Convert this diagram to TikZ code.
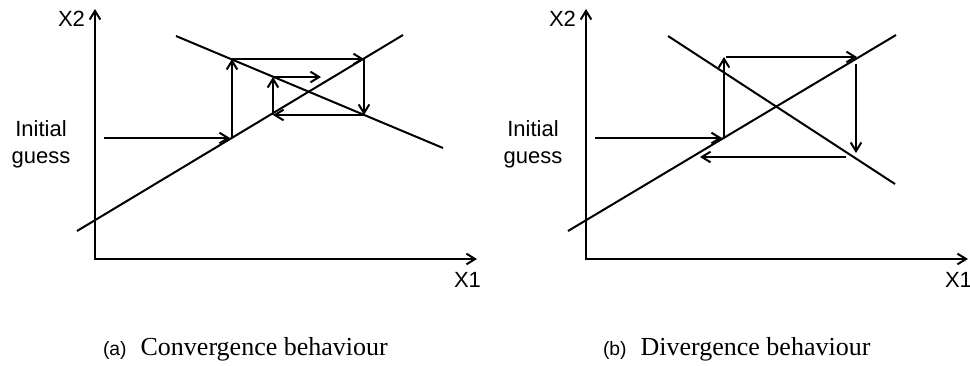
\documentclass[tikz,border=0pt]{standalone}
\usepackage{fontspec}
\setmainfont{Liberation Sans}
\newfontfamily\capserif{Liberation Serif}
\usetikzlibrary{arrows.meta,positioning}

\begin{document}
\begin{tikzpicture}[x=0.75pt,y=-0.75pt,line width=1.5pt,
  tip/.style={-{Straight Barb[length=6.5pt,width=8pt]}},
  axes/.style={{Straight Barb[length=6.5pt,width=8pt]}-{Straight Barb[length=6.5pt,width=8pt]}},
  lbl/.style={font=\fontsize{16.5}{20.25}\selectfont,inner sep=0pt},
  captag/.style={font=\fontsize{14.5}{16}\selectfont,inner sep=0pt,anchor=base west},
  captxt/.style={font=\capserif\fontsize{19.5}{22}\selectfont,inner sep=0pt}]
\useasboundingbox (0,0) rectangle (970,365);

% (a) convergence
\coordinate (oa) at (95,259);
\coordinate (ya) at (95,9);
\coordinate (xa) at (477,259);
\draw[axes] (ya) -- (oa) -- (xa);
\node[lbl,anchor=base west] (x2a) at (57,26) {X2};
\node[lbl,anchor=base west] (x1a) at (453,287) {X1};
\node[lbl,align=center] (guessa) at (41,144) {Initial\\guess};
\coordinate (ra1) at (77,231);
\coordinate (ra2) at (403,35);
\coordinate (fa1) at (176,36);
\coordinate (fa2) at (443,148);
\draw (ra1) -- (ra2);
\draw (fa1) -- (fa2);
\coordinate (sa) at (104,138);
\coordinate (a0) at (230,138);
\coordinate (a1) at (232,138);
\coordinate (a2) at (232,59);
\coordinate (a3) at (364,59);
\coordinate (a4) at (364,115);
\coordinate (a5) at (273,115);
\coordinate (a6) at (273,77);
\coordinate (a7) at (321,77);
\draw[tip] (sa) -- (a0);
\foreach \a/\b in {a1/a2,a2/a3,a3/a4,a4/a5,a5/a6,a6/a7}
  \draw[tip] (\a) -- (\b);
\node[captag] (capa) at (102,355) {(a)};
\node[captxt,base right=9pt of capa] (capatxt) {Convergence behaviour};

% (b) divergence
\coordinate (ob) at (586,259);
\coordinate (yb) at (586,9);
\coordinate (xb) at (968,259);
\draw[axes] (yb) -- (ob) -- (xb);
\node[lbl,anchor=base west] (x2b) at (548,26) {X2};
\node[lbl,anchor=base west] (x1b) at (944,287) {X1};
\node[lbl,align=center] (guessb) at (533,144) {Initial\\guess};
\coordinate (rb1) at (568,231);
\coordinate (rb2) at (896,35);
\coordinate (fb1) at (668,36);
\coordinate (fb2) at (895,184);
\draw (rb1) -- (rb2);
\draw (fb1) -- (fb2);
\coordinate (sb) at (595,138);
\coordinate (b1) at (722,138);
\coordinate (b2) at (724,138);
\coordinate (b3) at (724,57);
\coordinate (b4) at (726,57);
\coordinate (b5) at (857,57);
\coordinate (b6) at (856,64);
\coordinate (b7) at (856,153);
\coordinate (b8) at (846,157);
\coordinate (b9) at (700,157);
\foreach \a/\b in {sb/b1,b2/b3,b4/b5,b6/b7,b8/b9}
  \draw[tip] (\a) -- (\b);
\node[captag] (capb) at (602,355) {(b)};
\node[captxt,base right=9pt of capb] (capbtxt) {Divergence behaviour};
\end{tikzpicture}
\end{document}
